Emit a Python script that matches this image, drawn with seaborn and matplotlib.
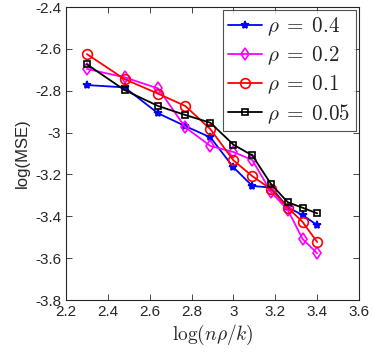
import pandas as pd
import matplotlib
matplotlib.use('Agg')
import matplotlib.pyplot as plt
import seaborn as sns

# x values: log(n*rho/k)
x_vals = [2.30, 2.48, 2.64, 2.77, 2.89, 3.00, 3.09, 3.18, 3.26, 3.33, 3.40]

# log(MSE) for each rho
mse_04 = [-2.773, -2.784, -2.908, -2.969, -3.023, -3.166, -3.255, -3.263, -3.357, -3.394, -3.442]
mse_02 = [-2.696, -2.736, -2.789, -2.975, -3.064, -3.093, -3.131, -3.285, -3.370, -3.508, -3.577]
mse_01 = [-2.625, -2.745, -2.814, -2.873, -2.984, -3.133, -3.208, -3.271, -3.359, -3.427, -3.523]
mse_005 = [-2.674, -2.797, -2.873, -2.916, -2.953, -3.058, -3.109, -3.247, -3.333, -3.359, -3.386]

labels = [r'$\rho\;=\;0.4$', r'$\rho\;=\;0.2$', r'$\rho\;=\;0.1$', r'$\rho\;=\;0.05$']
colors = ['#0000ff', '#ff00ff', '#ff0000', '#000000']
markers = ['*', 'd', 'o', 's']
marker_sizes = [6, 6.5, 7, 5]
x_ticks = [2.2, 2.4, 2.6, 2.8, 3.0, 3.2, 3.4, 3.6]
x_tick_labels = ['2.2', '2.4', '2.6', '2.8', '3', '3.2', '3.4', '3.6']
y_ticks = [-3.8, -3.6, -3.4, -3.2, -3.0, -2.8, -2.6, -2.4]
y_tick_labels = ['-3.8', '-3.6', '-3.4', '-3.2', '-3', '-2.8', '-2.6', '-2.4']

sns.set_style('ticks')
plt.rcParams['font.family'] = ['Liberation Sans', 'DejaVu Sans']
plt.rcParams['mathtext.fontset'] = 'cm'

fig = plt.figure(figsize=(3.74, 3.59), dpi=100)
ax = fig.add_axes([0.1765, 0.1643, 0.7835, 0.8162])

series = [mse_04, mse_02, mse_01, mse_005]
for i, ys in enumerate(series):
    df = pd.DataFrame({'x': x_vals, 'y': ys})
    filled = markers[i] == '*'
    sns.lineplot(data=df, x='x', y='y', ax=ax, color=colors[i], linewidth=1.3,
                 marker=markers[i], markersize=marker_sizes[i],
                 markerfacecolor=colors[i] if filled else 'none',
                 markeredgecolor=colors[i], markeredgewidth=1.2,
                 label=labels[i])

ax.set_xlim(2.2, 3.6)
ax.set_ylim(-3.8, -2.4)
ax.set_xticks(x_ticks)
ax.set_xticklabels(x_tick_labels)
ax.set_yticks(y_ticks)
ax.set_yticklabels(y_tick_labels)
ax.tick_params(direction='in', top=True, right=True, labelsize=11, length=4, width=0.6,
               colors='#262626')
for s in ax.spines.values():
    s.set_linewidth(0.8)
    s.set_color('#262626')

ax.set_xlabel(r'$\log(n\rho/k)$', fontsize=14, labelpad=3)
ax.set_ylabel('log(MSE)', fontsize=12, labelpad=4)

leg = ax.legend(loc='upper right', fontsize=15.2, frameon=True, fancybox=False,
                borderaxespad=0.15, handlelength=1.6, handletextpad=0.25,
                labelspacing=0.3, borderpad=0.25)
leg.get_frame().set_edgecolor('#262626')
leg.get_frame().set_linewidth(0.8)

fig.savefig('out.png', dpi=100)
